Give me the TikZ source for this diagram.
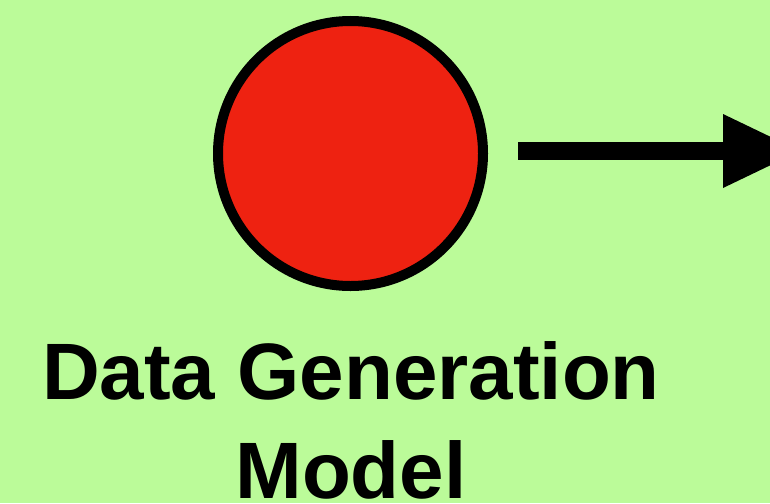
\documentclass[tikz,border=0pt]{standalone}
\usepackage{fontspec}
\setmainfont{Liberation Sans}
\definecolor{bg}{HTML}{BBFB99}
\definecolor{dotred}{HTML}{EE2211}
\begin{document}
\begin{tikzpicture}[x=1pt,y=-1pt,
  dot/.style={circle, draw=black, line width=10pt, fill=dotred, minimum size=265pt, inner sep=0pt},
  lbl/.style={font=\fontsize{80}{99}\selectfont\bfseries, align=center, anchor=base, inner sep=0pt},
  shaft/.style={line width=18pt, line cap=butt}]
\clip (0,0) rectangle (770,503);
\fill[bg] (0,0) rectangle (770,503);
\node[dot] (c) at (350.5,153.5) {};
\node[lbl] (t) at (351,498) {Data Generation\\Model};
\coordinate (s) at (518,151);
\coordinate (h) at (723,151);
\coordinate (tip) at (800,151);
\draw[shaft] (s) -- (h);
\fill (723,114) -- (tip) -- (723,188) -- cycle;
\end{tikzpicture}
\end{document}
